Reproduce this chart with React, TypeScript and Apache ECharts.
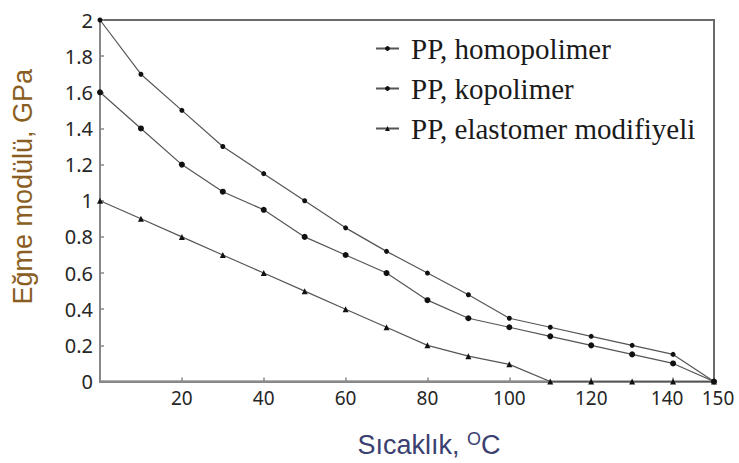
import React, { useEffect, useRef } from "react";
import * as echarts from "echarts";

const temperatures = [0, 10, 20, 30, 40, 50, 60, 70, 80, 90, 100, 110, 120, 130, 140, 150];
const homopolimer = [2.0, 1.7, 1.5, 1.3, 1.15, 1.0, 0.85, 0.72, 0.6, 0.48, 0.35, 0.3, 0.25, 0.2, 0.15, 0];
const kopolimer = [1.6, 1.4, 1.2, 1.05, 0.95, 0.8, 0.7, 0.6, 0.45, 0.35, 0.3, 0.25, 0.2, 0.15, 0.1, 0];
const elastomer = [1.0, 0.9, 0.8, 0.7, 0.6, 0.5, 0.4, 0.3, 0.2, 0.14, 0.095, 0, 0, 0, 0, 0];
const seriesNames = ["PP, homopolimer", "PP, kopolimer", "PP, elastomer modifiyeli"];
const xTickValues = [20, 40, 60, 80, 100, 120, 140];
const xLabelValues = [20, 40, 60, 80, 100, 120, 140, 150];

export default function App() {
  const ref = useRef<HTMLDivElement>(null);
  useEffect(() => {
    if (!ref.current) return;
    const chart = echarts.init(ref.current, null, { renderer: "svg" });
    const mk = (name: string, vals: number[], symbol: string, size: number) => ({
      name,
      type: "line",
      data: temperatures.map((t, i) => [t, vals[i]]),
      symbol,
      symbolSize: size,
      showSymbol: true,
      lineStyle: { color: "#555", width: 1.2 },
      itemStyle: { color: "#111" },
      z: 3,
    });
    const tickFont = { fontFamily: "Noto Sans", fontSize: 19, color: "#262626" };
    chart.setOption({
      animation: false,
      backgroundColor: "#fff",
      textStyle: { fontFamily: "Liberation Serif" },
      grid: {
        left: 100,
        right: 25,
        top: 20,
        bottom: 80,
        show: true,
        borderColor: "#6a6a6a",
        borderWidth: 2,
      },
      legend: {
        left: 370,
        top: 29,
        orient: "vertical",
        itemWidth: 23,
        itemHeight: 6,
        itemGap: 11,
        data: seriesNames,
        textStyle: {
          fontFamily: "Liberation Serif",
          fontSize: 29,
          lineHeight: 28,
          color: "#1a1a1a",
          padding: [0, 0, 0, 7],
        },
      },
      xAxis: {
        type: "value",
        min: 0,
        max: 150,
        interval: 10,
        name: "Sıcaklık, {sup|O}C",
        nameLocation: "middle",
        nameGap: 48,
        nameTextStyle: {
          fontFamily: "Liberation Sans",
          fontSize: 27,
          color: "#3a4070",
          padding: [0, 0, 0, 44],
          rich: {
            sup: {
              fontFamily: "Liberation Sans",
              fontSize: 18,
              color: "#3a4070",
              padding: [0, 0, 12, 0],
            },
          },
        },
        axisLine: { show: true, lineStyle: { color: "#888", width: 2 } },
        axisTick: {
          show: true,
          inside: true,
          length: 4,
          customValues: xTickValues,
          lineStyle: { color: "#888", width: 1.5 },
        },
        axisLabel: {
          customValues: xLabelValues,
          margin: 7,
          ...tickFont,
          formatter: (v: number) =>
            v === 140 ? "{l|140}" : v === 150 ? "{r|150}" : String(v),
          rich: {
            l: { ...tickFont, padding: [0, 12, 0, 0] },
            r: { ...tickFont, padding: [0, 0, 0, 8] },
          },
        },
        splitLine: { show: false },
      },
      yAxis: {
        type: "value",
        min: 0,
        max: 2,
        interval: 0.2,
        name: "Eğme modülü, GPa",
        nameLocation: "middle",
        nameGap: 64,
        nameTextStyle: {
          fontFamily: "Liberation Sans",
          fontSize: 27,
          color: "#8a5e22",
          padding: [0, 0, 0, 28],
        },
        axisLine: { show: true, lineStyle: { color: "#888", width: 2 } },
        axisTick: { show: true, inside: true, length: 4, lineStyle: { color: "#888", width: 1.5 } },
        axisLabel: {
          margin: 7,
          ...tickFont,
          fontSize: 20,
        },
        splitLine: { show: false },
      },
      series: [
        mk(seriesNames[0], homopolimer, "circle", 5),
        mk(seriesNames[1], kopolimer, "circle", 6),
        mk(seriesNames[2], elastomer, "triangle", 6),
      ],
    });
    return () => chart.dispose();
  }, []);
  return (
    <div
      ref={ref}
      style={{ position: "fixed", left: 0, top: 0, width: 739, height: 463 }}
    />
  );
}
